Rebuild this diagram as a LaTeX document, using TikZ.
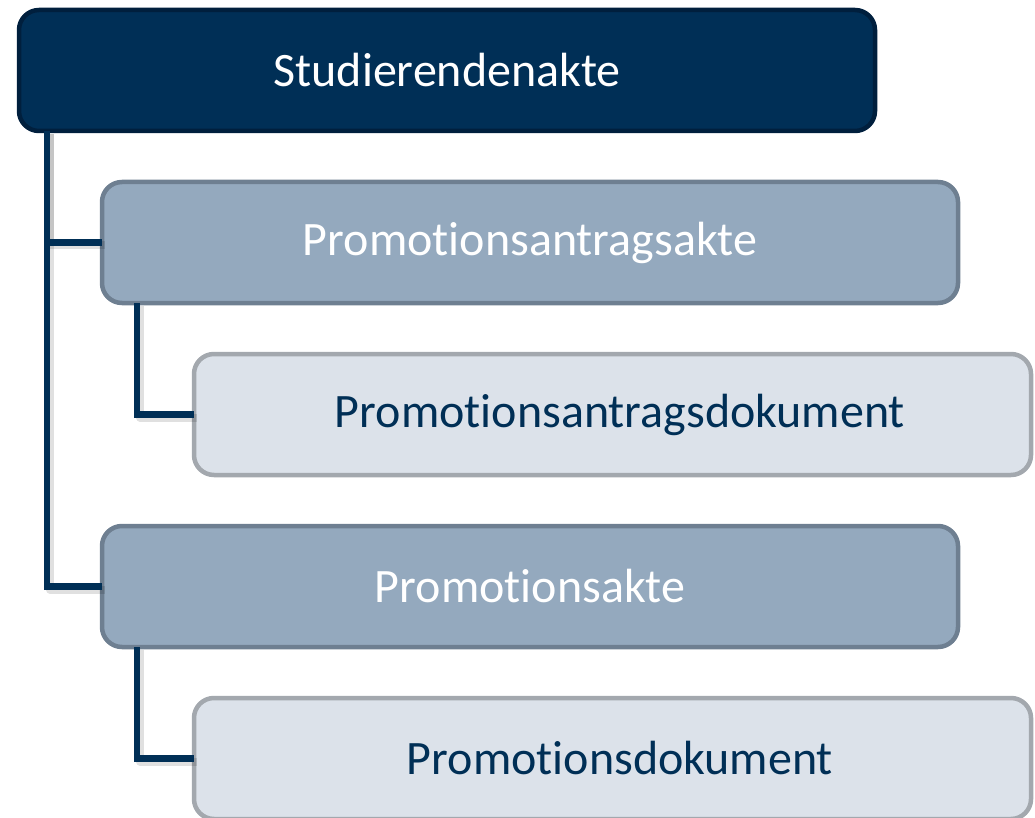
\documentclass[tikz,border=0pt]{standalone}
\usepackage{fontspec}
\setmainfont{Carlito}[Ligatures=NoCommon]
\definecolor{navy}{HTML}{002F56}
\definecolor{navyborder}{HTML}{001F3D}
\definecolor{midfill}{HTML}{94A9BE}
\definecolor{midborder}{HTML}{6E7F91}
\definecolor{lightfill}{HTML}{DCE2EA}
\definecolor{lightborder}{HTML}{A3A8AE}
\tikzset{
  box/.style={rectangle, rounded corners=20pt, line width=4.5pt, inner sep=0pt, outer sep=0pt,
    minimum height=121pt, font=\fontsize{48}{58}\selectfont},
  topbox/.style={box, fill=navy, draw=navyborder, text=white, minimum width=856pt},
  midbox/.style={box, fill=midfill, draw=midborder, text=white, minimum width=856pt},
  leafbox/.style={box, fill=lightfill, draw=lightborder, text=navy, minimum width=837pt},
  conn/.style={line width=6.5pt, draw=navy},
  connshadow/.style={line width=8pt, draw=black, opacity=0.12, line join=round}
}
\begin{document}
\begin{tikzpicture}[x=1pt,y=-1pt]
\useasboundingbox (0,0) rectangle (1035,818);
\node[topbox]  (b1) at (447,70.5)   {Studierendenakte};
\node[midbox]  (b2) at (530,242.5)  {Promotionsantragsakte};
\node[leafbox] (b3) at (612.5,414.5) {\hspace*{15pt}Promotionsantragsdokument};
\node[midbox]  (b4) at (530,586.5)  {Promotionsakte};
\node[leafbox] (b5) at (612.5,758.5) {\hspace*{15pt}Promotionsdokument};
% connector shadows
\begin{scope}[transform canvas={shift={(3pt,-3pt)}}]
\draw[connshadow] ([xshift=28pt]b1.south west) |- (b2.west);
\draw[connshadow] ([xshift=28pt]b1.south west) |- (b4.west);
\draw[connshadow] ([xshift=35pt]b2.south west) |- (b3.west);
\draw[connshadow] ([xshift=35pt]b4.south west) |- (b5.west);
\end{scope}
% connectors
\draw[conn] ([xshift=28pt]b1.south west) |- (b2.west);
\draw[conn] ([xshift=28pt]b1.south west) |- (b4.west);
\draw[conn] ([xshift=35pt]b2.south west) |- (b3.west);
\draw[conn] ([xshift=35pt]b4.south west) |- (b5.west);
\end{tikzpicture}
\end{document}
